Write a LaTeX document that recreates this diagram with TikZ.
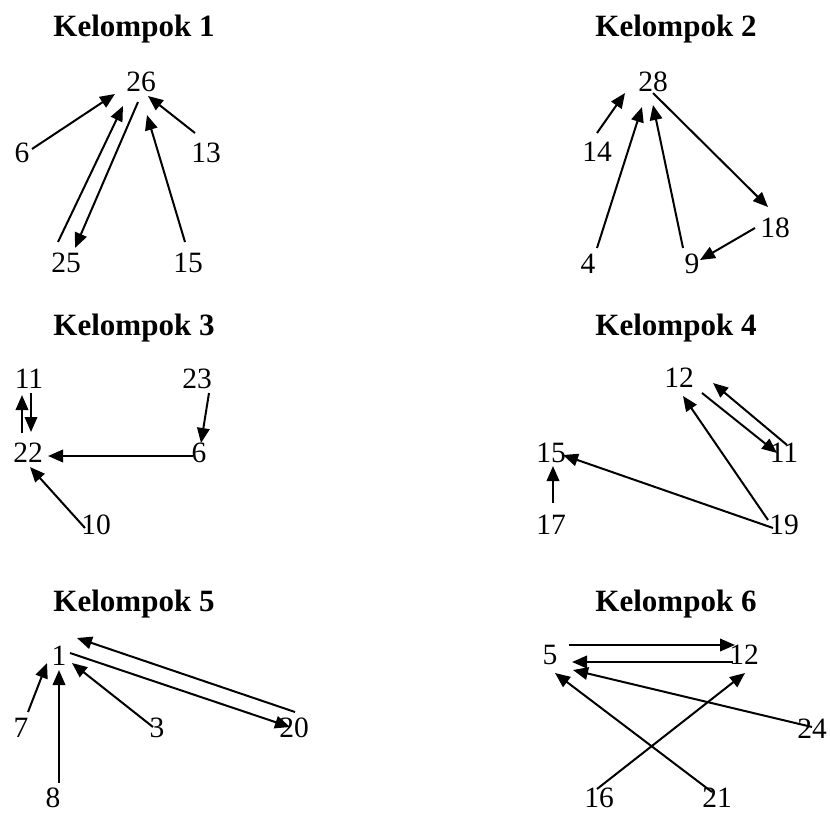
\documentclass[tikz,border=0pt]{standalone}
\usepackage{fontspec}
\setmainfont{Liberation Serif}
\usetikzlibrary{arrows.meta}
\tikzset{
  lbl/.style={inner sep=0pt, font=\fontsize{29.5}{31}\selectfont},
  ttl/.style={inner sep=0pt, anchor=base, font=\bfseries\fontsize{31}{33}\selectfont},
  arr/.style={line width=2pt, -{Triangle[length=15pt,width=12.5pt]}}
}
\begin{document}
\begin{tikzpicture}[x=1pt,y=-1pt]
\useasboundingbox (0,0) rectangle (830,813);
% titles
\node[ttl] (t1) at (134,37) {Kelompok 1};
\node[ttl] (t2) at (676,37) {Kelompok 2};
\node[ttl] (t3) at (134,335) {Kelompok 3};
\node[ttl] (t4) at (676,335) {Kelompok 4};
\node[ttl] (t5) at (134,611) {Kelompok 5};
\node[ttl] (t6) at (676,611) {Kelompok 6};
% group 1
\node[lbl] (a26) at (141,82) {26};
\node[lbl] (a6) at (22,153) {6};
\node[lbl] (a13) at (206,153) {13};
\node[lbl] (a25) at (66,263) {25};
\node[lbl] (a15) at (188,263) {15};
\coordinate (a1s) at (32,149);  \coordinate (a1e) at (115,94);
\coordinate (a2s) at (58,242);  \coordinate (a2e) at (123,106);
\coordinate (a3s) at (138,102); \coordinate (a3e) at (75,248);
\coordinate (a4s) at (185,242); \coordinate (a4e) at (147,115);
\coordinate (a5s) at (195,133); \coordinate (a5e) at (148,96);
\draw[arr] (a1s) -- (a1e);
\draw[arr] (a2s) -- (a2e);
\draw[arr] (a3s) -- (a3e);
\draw[arr] (a4s) -- (a4e);
\draw[arr] (a5s) -- (a5e);
% group 2
\node[lbl] (b28) at (653,82) {28};
\node[lbl] (b14) at (597,152) {14};
\node[lbl] (b4) at (588,264) {4};
\node[lbl] (b9) at (692,264) {9};
\node[lbl] (b18) at (775,228) {18};
\coordinate (b1s) at (597,133); \coordinate (b1e) at (625,93);
\coordinate (b2s) at (597,248); \coordinate (b2e) at (642,107);
\coordinate (b3s) at (683,248); \coordinate (b3e) at (653,105);
\coordinate (b4s) at (653,93);  \coordinate (b4e) at (768,207);
\coordinate (b5s) at (755,228); \coordinate (b5e) at (700,260);
\draw[arr] (b1s) -- (b1e);
\draw[arr] (b2s) -- (b2e);
\draw[arr] (b3s) -- (b3e);
\draw[arr] (b4s) -- (b4e);
\draw[arr] (b5s) -- (b5e);
% group 3
\node[lbl] (c11) at (29,379) {11};
\node[lbl] (c23) at (197,379) {23};
\node[lbl] (c22) at (28,453) {22};
\node[lbl] (c6) at (199,453) {6};
\node[lbl] (c10) at (96,525) {10};
\coordinate (c1s) at (22,433);  \coordinate (c1e) at (22,395);
\coordinate (c2s) at (31,393);  \coordinate (c2e) at (31,432);
\coordinate (c3s) at (209,393); \coordinate (c3e) at (201,443);
\coordinate (c4s) at (193,456); \coordinate (c4e) at (48,456);
\coordinate (c5s) at (85,528);  \coordinate (c5e) at (30,467);
\draw[arr] (c1s) -- (c1e);
\draw[arr] (c2s) -- (c2e);
\draw[arr] (c3s) -- (c3e);
\draw[arr] (c4s) -- (c4e);
\draw[arr] (c5s) -- (c5e);
% group 4
\node[lbl] (d12) at (679,378) {12};
\node[lbl] (d11) at (784,453) {11};
\node[lbl] (d15) at (551,453) {15};
\node[lbl] (d17) at (551,525) {17};
\node[lbl] (d19) at (784,525) {19};
\coordinate (d1s) at (787,445); \coordinate (d1e) at (713,383);
\coordinate (d2s) at (702,393); \coordinate (d2e) at (777,453);
\coordinate (d3s) at (768,520); \coordinate (d3e) at (683,396);
\coordinate (d4s) at (773,528); \coordinate (d4e) at (563,455);
\coordinate (d5s) at (553,503); \coordinate (d5e) at (553,466);
\draw[arr] (d1s) -- (d1e);
\draw[arr] (d2s) -- (d2e);
\draw[arr] (d3s) -- (d3e);
\draw[arr] (d4s) -- (d4e);
\draw[arr] (d5s) -- (d5e);
% group 5
\node[lbl] (e1) at (59,656) {1};
\node[lbl] (e7) at (21,728) {7};
\node[lbl] (e3) at (157,728) {3};
\node[lbl] (e20) at (294,728) {20};
\node[lbl] (e8) at (53,798) {8};
\coordinate (e1s) at (28,712);  \coordinate (e1e) at (47,663);
\coordinate (e2s) at (59,783);  \coordinate (e2e) at (59,670);
\coordinate (e3s) at (153,727); \coordinate (e3e) at (72,663);
\coordinate (e4s) at (70,653);  \coordinate (e4e) at (290,727);
\coordinate (e5s) at (295,712); \coordinate (e5e) at (77,638);
\draw[arr] (e1s) -- (e1e);
\draw[arr] (e2s) -- (e2e);
\draw[arr] (e3s) -- (e3e);
\draw[arr] (e4s) -- (e4e);
\draw[arr] (e5s) -- (e5e);
% group 6
\node[lbl] (f5) at (550,655) {5};
\node[lbl] (f12) at (744,655) {12};
\node[lbl] (f24) at (812,729) {24};
\node[lbl] (f16) at (599,798) {16};
\node[lbl] (f21) at (717,798) {21};
\coordinate (f1s) at (569,645); \coordinate (f1e) at (735,645);
\coordinate (f2s) at (733,662); \coordinate (f2e) at (572,662);
\coordinate (f3s) at (812,727); \coordinate (f3e) at (573,670);
\coordinate (f4s) at (712,792); \coordinate (f4e) at (555,673);
\coordinate (f5s) at (597,789); \coordinate (f5e) at (745,673);
\draw[arr] (f1s) -- (f1e);
\draw[arr] (f2s) -- (f2e);
\draw[arr] (f3s) -- (f3e);
\draw[arr] (f4s) -- (f4e);
\draw[arr] (f5s) -- (f5e);
\end{tikzpicture}
\end{document}
